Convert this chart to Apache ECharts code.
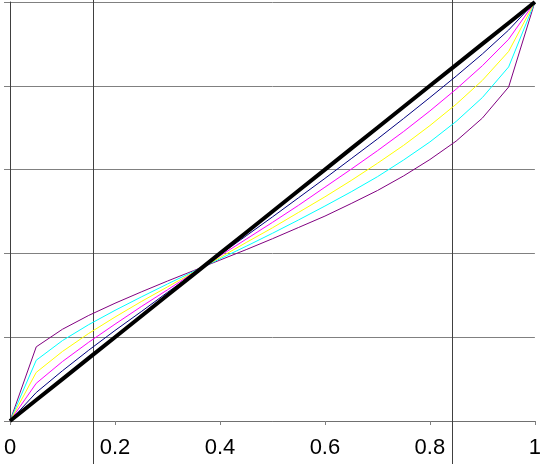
<!DOCTYPE html>
<html>
<head>
<meta charset="utf-8">
<script src="https://cdn.jsdelivr.net/npm/echarts@6/dist/echarts.min.js"></script>
<style>
html,body{margin:0;padding:0;background:#fff;}
#c{width:544px;height:464px;}
</style>
</head>
<body>
<div id="c"></div>
<script>
var xs = [0,0.05,0.1,0.15,0.2,0.25,0.3,0.35,0.4,0.45,0.5,0.55,0.6,0.65,0.7,0.75,0.8,0.85,0.9,0.95,1];
var lineBase = [0,0.05,0.1,0.15,0.2,0.25,0.3,0.35,0.4,0.45,0.5,0.55,0.6,0.65,0.7,0.75,0.8,0.85,0.9,0.95,1];
var curveA = [0,0.068,0.120,0.169,0.216,0.261,0.307,0.352,0.397,0.442,0.487,0.533,0.579,0.626,0.673,0.722,0.772,0.823,0.876,0.933,1];
var curveB = [0,0.090,0.142,0.188,0.231,0.273,0.313,0.354,0.394,0.434,0.474,0.515,0.558,0.601,0.645,0.691,0.740,0.792,0.848,0.911,1];
var curveC = [0,0.116,0.166,0.209,0.248,0.285,0.320,0.355,0.390,0.426,0.461,0.498,0.535,0.574,0.615,0.658,0.705,0.756,0.813,0.882,1];
var curveD = [0,0.145,0.192,0.230,0.264,0.296,0.327,0.357,0.387,0.417,0.448,0.480,0.513,0.547,0.583,0.623,0.666,0.715,0.772,0.845,1];
var curveE = [0,0.177,0.219,0.252,0.281,0.308,0.334,0.359,0.384,0.409,0.435,0.462,0.489,0.519,0.550,0.585,0.624,0.668,0.723,0.797,1];
var markerX = [0.1587, 0.8413];

function pairs(ys){ return xs.map(function(x,i){ return [x, ys[i]]; }); }

var chart = echarts.init(document.getElementById('c'), null, {renderer:'canvas'});
var colored = [
  {d: curveE, c: '#800080'},
  {d: curveD, c: '#00FFFF'},
  {d: curveC, c: '#FFFF00'},
  {d: curveB, c: '#FF00FF'},
  {d: curveA, c: '#000080'}
];
var series = colored.map(function(s){
  return {type:'line', data: pairs(s.d), showSymbol:false, symbol:'none',
    lineStyle:{color:s.c, width:1}, z:2};
});
series.push({type:'line', data: pairs(lineBase), showSymbol:false, symbol:'none',
  lineStyle:{color:'#000', width:4}, z:5});

chart.setOption({
  animation:false,
  backgroundColor:'#fff',
  grid:{left:10, right:6, top:2, bottom:43, containLabel:false},
  xAxis:{type:'value', min:0, max:1, interval:0.2,
    axisLine:{show:true, lineStyle:{color:'#707070', width:1}},
    axisTick:{show:true, length:4, lineStyle:{color:'#808080'}},
    axisLabel:{show:true, margin:16, fontSize:22, color:'#000', fontFamily:'Liberation Sans, Arial, sans-serif',
      formatter:function(v){ return String(Math.round(v*10)/10); }},
    splitLine:{show:false}},
  yAxis:{type:'value', min:0, max:1, interval:0.2,
    axisLine:{show:true, lineStyle:{color:'#404040', width:1}},
    axisTick:{show:true, length:6, lineStyle:{color:'#808080'}},
    axisLabel:{show:false},
    splitLine:{show:true, lineStyle:{color:'#808080', width:1}}},
  series: series
});

var gr = markerX.map(function(v){
  var px = Math.round(chart.convertToPixel({xAxisIndex:0}, v)) + 0.5;
  return {type:'line', shape:{x1:px, y1:0, x2:px, y2:464}, style:{stroke:'#404040', lineWidth:1}, z:1};
});
chart.setOption({graphic: gr});
</script>
</body>
</html>
